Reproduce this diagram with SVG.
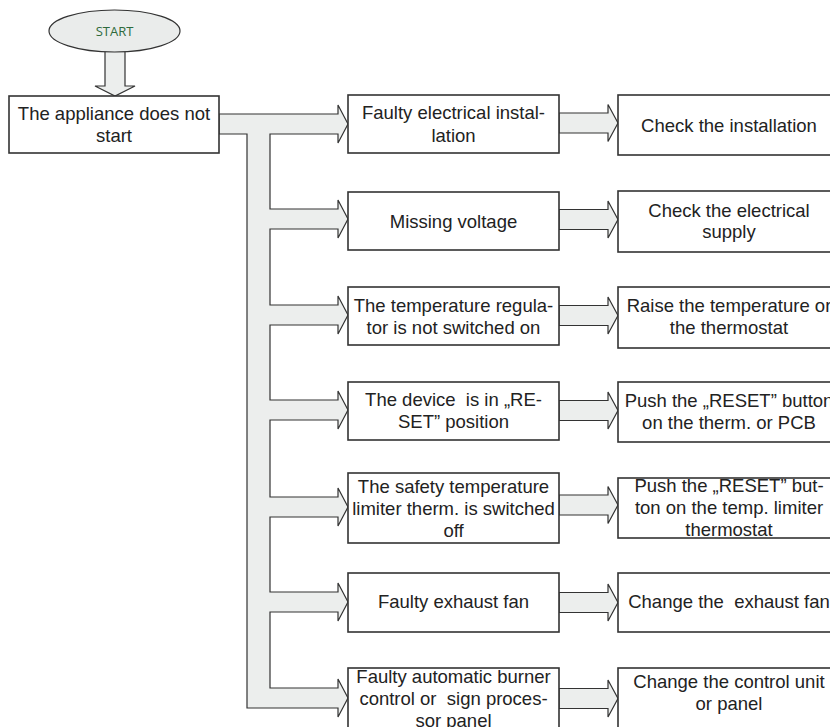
<svg xmlns="http://www.w3.org/2000/svg" width="830" height="727" viewBox="0 0 830 727">
<style>
.box{fill:#fff;stroke:#333;stroke-width:1.6}
.arr{fill:#eceeed;stroke:#333;stroke-width:1.2;stroke-linejoin:miter}
.t{font-family:"Liberation Sans",Arial,sans-serif;font-size:18.5px;fill:#222;text-anchor:middle;white-space:pre}
.st{font-family:"Open Sans","Liberation Sans",sans-serif;font-size:13px;fill:#2f6a3c;text-anchor:middle}
</style>
<rect width="830" height="727" fill="#fff"/>
<g id="connectors">
<path class="arr" d="M105,51 L125,51 L125,86 L135,86 L115,96 L95,86 L105,86 Z"/>
<path class="arr" d="M219,114 L338,114 L338,105 L348,124 L338,143 L338,134 L270,134
L270,209 L338,209 L338,200 L348,219 L338,238 L338,229 L270,229
L270,305 L338,305 L338,296 L348,315 L338,334 L338,325 L270,325
L270,400 L338,400 L338,391 L348,410 L338,429 L338,420 L270,420
L270,497 L338,497 L338,488 L348,507 L338,526 L338,517 L270,517
L270,592 L338,592 L338,583 L348,602 L338,621 L338,612 L270,612
L270,688 L338,688 L338,679 L348,698 L338,717 L338,708 L247,708 L247,134 L219,134 Z"/>
<path class="arr" d="M559,113 L608,113 L608,104.5 L618,123 L608,141.5 L608,133 L559,133 Z"/>
<path class="arr" d="M559,209.5 L608,209.5 L608,201 L618,219.5 L608,238 L608,229.5 L559,229.5 Z"/>
<path class="arr" d="M559,305.5 L608,305.5 L608,297 L618,315.5 L608,334 L608,325.5 L559,325.5 Z"/>
<path class="arr" d="M559,400.5 L608,400.5 L608,392 L618,410.5 L608,429 L608,420.5 L559,420.5 Z"/>
<path class="arr" d="M559,495 L608,495 L608,486.5 L618,505 L608,523.5 L608,515 L559,515 Z"/>
<path class="arr" d="M559,592.5 L608,592.5 L608,584 L618,602.5 L608,621 L608,612.5 L559,612.5 Z"/>
<path class="arr" d="M559,688.5 L608,688.5 L608,680 L618,698.5 L608,717 L608,708.5 L559,708.5 Z"/>
</g>
<g id="start">
<ellipse cx="114.5" cy="31" rx="65.5" ry="21" fill="#eaeceb" stroke="#333" stroke-width="1.2"/>
<text class="st" x="114.5" y="36">START</text>
</g>
<g id="n0">
<rect class="box" x="9" y="96" width="210" height="57"/>
<text class="t" x="114" y="120">The appliance does not</text>
<text class="t" x="114" y="142">start</text>
</g>
<g id="c1">
<rect class="box" x="348" y="95" width="211" height="58"/>
<text class="t" x="453.5" y="119">Faulty electrical instal-</text>
<text class="t" x="453.5" y="141.5">lation</text>
</g>
<g id="c2">
<rect class="box" x="348" y="192" width="211" height="58"/>
<text class="t" x="453.5" y="228">Missing voltage</text>
</g>
<g id="c3">
<rect class="box" x="348" y="287" width="211" height="58"/>
<text class="t" x="453.5" y="311.5">The temperature regula-</text>
<text class="t" x="453.5" y="334">tor is not switched on</text>
</g>
<g id="c4">
<rect class="box" x="348" y="382" width="211" height="58"/>
<text class="t" x="453.5" y="406">The device  is in „RE-</text>
<text class="t" x="453.5" y="428">SET” position</text>
</g>
<g id="c5">
<rect class="box" x="348" y="473" width="211" height="70"/>
<text class="t" x="453.5" y="493">The safety temperature</text>
<text class="t" x="453.5" y="515">limiter therm. is switched</text>
<text class="t" x="453.5" y="537">off</text>
</g>
<g id="c6">
<rect class="box" x="348" y="573" width="211" height="59"/>
<text class="t" x="453.5" y="608">Faulty exhaust fan</text>
</g>
<g id="c7">
<rect class="box" x="348" y="668" width="211" height="70"/>
<text class="t" x="453.5" y="683">Faulty automatic burner</text>
<text class="t" x="453.5" y="705">control or  sign proces-</text>
<text class="t" x="453.5" y="727">sor panel</text>
</g>
<g id="r1">
<rect class="box" x="618" y="95" width="222" height="60"/>
<text class="t" x="729" y="131.5">Check the installation</text>
</g>
<g id="r2">
<rect class="box" x="618" y="191" width="222" height="61"/>
<text class="t" x="729" y="216.5">Check the electrical</text>
<text class="t" x="729" y="238">supply</text>
</g>
<g id="r3">
<rect class="box" x="618" y="287" width="222" height="61"/>
<text class="t" x="729" y="311.5">Raise the temperature or</text>
<text class="t" x="729" y="334">the thermostat</text>
</g>
<g id="r4">
<rect class="box" x="618" y="382" width="222" height="60"/>
<text class="t" x="729" y="406.5">Push the „RESET” button</text>
<text class="t" x="729" y="429">on the therm. or PCB</text>
</g>
<g id="r5">
<rect class="box" x="618" y="478" width="222" height="60"/>
<text class="t" x="729" y="491.5">Push the „RESET” but-</text>
<text class="t" x="729" y="514">ton on the temp. limiter</text>
<text class="t" x="729" y="536">thermostat</text>
</g>
<g id="r6">
<rect class="box" x="618" y="573" width="222" height="59"/>
<text class="t" x="729" y="608">Change the  exhaust fan</text>
</g>
<g id="r7">
<rect class="box" x="618" y="668" width="222" height="70"/>
<text class="t" x="729" y="688">Change the control unit</text>
<text class="t" x="729" y="710">or panel</text>
</g>
</svg>
